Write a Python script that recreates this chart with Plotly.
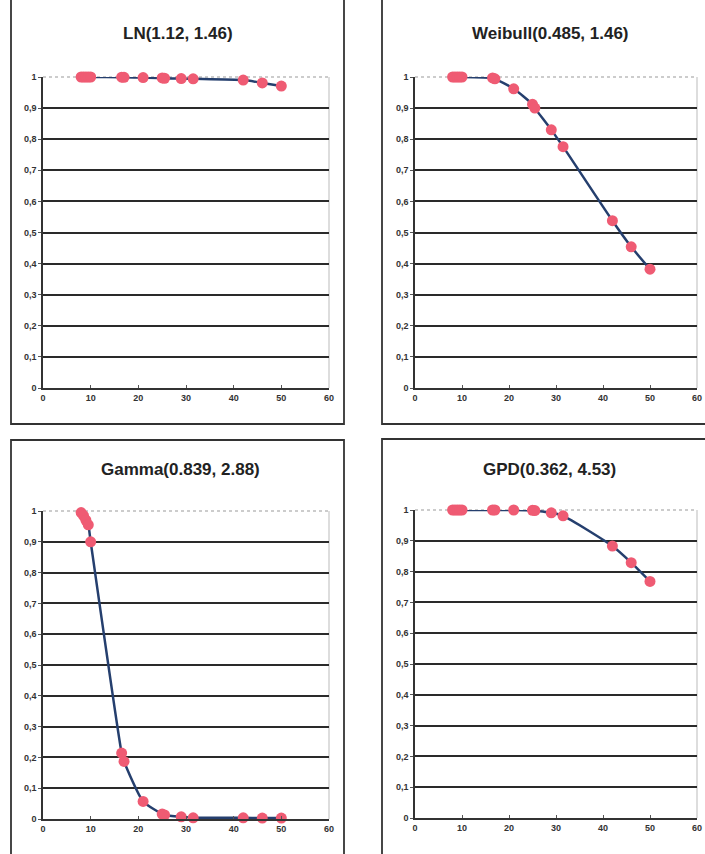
import plotly.graph_objects as go

# ---- data ----
x_vals = [8, 8.5, 9, 9.5, 10, 16.5, 17, 21, 25, 25.5, 29, 31.5, 42, 46, 50]
ln_vals = [1, 1, 1, 1, 1, 0.9995, 0.999, 0.998, 0.997, 0.996, 0.995, 0.994, 0.990, 0.981, 0.971]
weibull_vals = [1, 1, 1, 1, 1, 0.997, 0.994, 0.962, 0.912, 0.900, 0.830, 0.776, 0.538, 0.454, 0.382]
gamma_vals = [0.995, 0.985, 0.970, 0.955, 0.900, 0.214, 0.187, 0.057, 0.016, 0.013, 0.007, 0.004, 0.004, 0.003, 0.003]
gpd_vals = [1, 1, 1, 1, 1, 1, 1, 1, 0.999, 0.998, 0.991, 0.981, 0.883, 0.829, 0.768]
titles = ["LN(1.12, 1.46)", "Weibull(0.485, 1.46)", "Gamma(0.839, 2.88)", "GPD(0.362, 4.53)"]
series = [ln_vals, weibull_vals, gamma_vals, gpd_vals]
x_ticks = [0, 10, 20, 30, 40, 50, 60]
y_ticks = [0, 0.1, 0.2, 0.3, 0.4, 0.5, 0.6, 0.7, 0.8, 0.9, 1]
y_grid = [0.1, 0.2, 0.3, 0.4, 0.5, 0.6, 0.7, 0.8, 0.9]

W, H = 705, 854
# plot-area pixel boxes (left, right, top, bottom)
boxes = [(43, 329, 77, 388), (415, 697, 77, 388), (43, 329, 511, 819), (415, 697, 510, 818)]
frames = [(11, 344, -5, 424), (382, 712, -5, 424), (11, 344, 440, 860), (382, 712, 439, 860)]
title_pos = [(178, 33), (550, 33), (180, 469), (549, 469)]

LINE = "#253f6e"
MARK = "#ef5b73"
TICKFONT = dict(family="Liberation Sans", size=9, color="#333", weight="bold")

fig = go.Figure()
shapes = []
annotations = []
for i, (vals, box) in enumerate(zip(series, boxes)):
    n = "" if i == 0 else str(i + 1)
    xa, ya = "x" + n, "y" + n
    fig.add_trace(go.Scatter(
        x=x_vals, y=vals, xaxis=xa, yaxis=ya, mode="lines+markers",
        line=dict(color=LINE, width=2.5, shape="spline", smoothing=0.6),
        marker=dict(color=MARK, size=11, line=dict(width=0)),
        showlegend=False, cliponaxis=False,
    ))
    l, r, t, b = box
    fig.layout["xaxis" + n] = dict(
        domain=[l / W, r / W], anchor=ya, range=[0, 60], tickvals=x_ticks,
        showgrid=False, zeroline=False, showline=True, linecolor="#333", linewidth=1.5,
        ticks="inside", ticklen=3, tickcolor="#555", tickfont=TICKFONT,
        ticklabeloverflow="allow", automargin=False, fixedrange=True,
    )
    fig.layout["yaxis" + n] = dict(
        domain=[1 - b / H, 1 - t / H], anchor=xa, range=[0, 1], tickvals=y_ticks,
        showgrid=False, zeroline=False, showline=True, linecolor="#333", linewidth=1.5,
        ticks="outside", ticklen=3, tickcolor="#555", tickfont=TICKFONT,
        minor=dict(tickvals=y_grid, showgrid=True, gridcolor="#2a2a2a", gridwidth=1.5, ticks=""),
        automargin=False, fixedrange=True,
    )
    # top dotted border and light right border of plot area
    shapes.append(dict(type="line", xref="paper", yref="paper", x0=l / W, x1=r / W,
                       y0=1 - t / H, y1=1 - t / H,
                       line=dict(color="#999", width=1, dash="dot"), layer="below"))
    shapes.append(dict(type="line", xref="paper", yref="paper", x0=r / W, x1=r / W,
                       y0=1 - b / H, y1=1 - t / H,
                       line=dict(color="#bbb", width=1), layer="below"))
    fl, fr, ft, fb = frames[i]
    shapes.append(dict(type="rect", xref="paper", yref="paper", x0=fl / W, x1=fr / W,
                       y0=1 - fb / H, y1=1 - ft / H, line=dict(color="#333", width=1.8),
                       fillcolor="rgba(0,0,0,0)", layer="below"))
    tx, ty = title_pos[i]
    annotations.append(dict(text=titles[i], xref="paper", yref="paper", x=tx / W, y=1 - ty / H,
                            xanchor="center", yanchor="middle", showarrow=False,
                            font=dict(family="Liberation Sans", size=17, color="#222", weight="bold")))

fig.update_layout(
    width=W, height=H, margin=dict(l=0, r=0, t=0, b=0, autoexpand=False),
    paper_bgcolor="white", plot_bgcolor="rgba(0,0,0,0)",
    separators=",.", shapes=shapes, annotations=annotations,
)
fig.write_html("out.html")
